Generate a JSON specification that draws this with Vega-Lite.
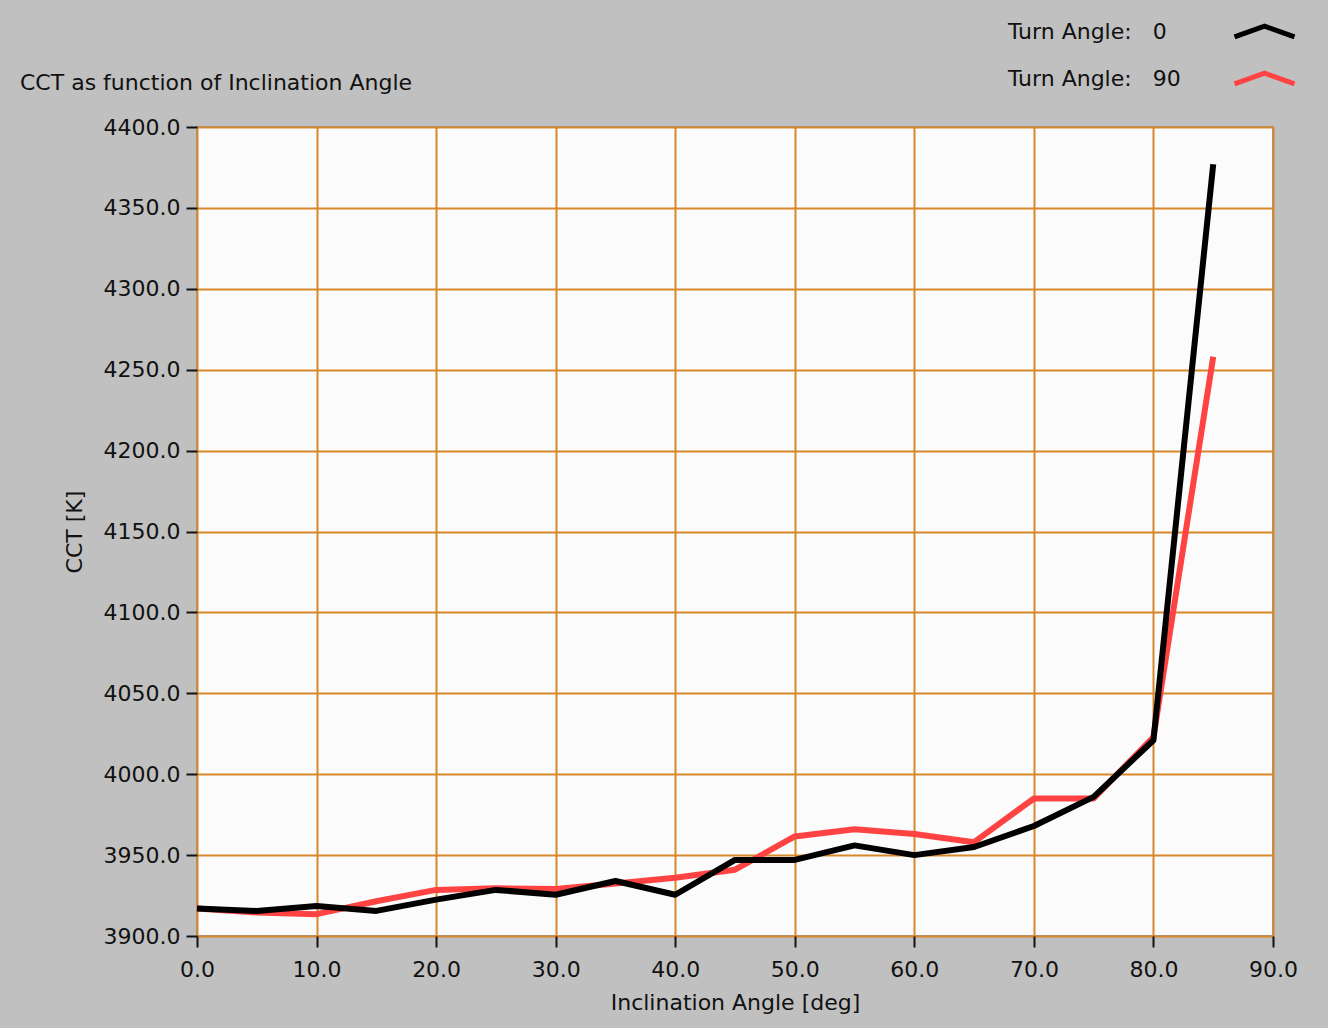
{
  "$schema": "https://vega.github.io/schema/vega-lite/v6.json",
  "width": 1076,
  "height": 809,
  "autosize": {"type": "none"},
  "padding": {"left": 197, "top": 127, "right": 55, "bottom": 92},
  "background": "#c0c0c0",
  "title": {
    "text": "CCT as function of Inclination Angle",
    "anchor": "start",
    "frame": "group",
    "dx": -177,
    "dy": 108,
    "offset": 22,
    "font": "DejaVu Sans",
    "fontSize": 22,
    "fontWeight": "normal",
    "color": "#111111"
  },
  "config": {
    "view": {"fill": "#fbfbfb", "stroke": "#9a9a9a", "strokeWidth": 2},
    "axis": {
      "labelFont": "DejaVu Sans",
      "labelFontSize": 22,
      "labelColor": "#111111",
      "labelFlush": false,
      "titleFont": "DejaVu Sans",
      "titleFontSize": 22,
      "titleFontWeight": "normal",
      "titleColor": "#111111",
      "domain": false,
      "grid": true,
      "gridColor": "#d8882a",
      "gridWidth": 2,
      "gridOpacity": 1,
      "tickColor": "#111111",
      "tickWidth": 2,
      "tickSize": 11
    },
    "legend": {
      "labelFont": "DejaVu Sans",
      "labelFontSize": 22,
      "labelColor": "#111111",
      "labelLimit": 400
    }
  },
  "data": {
    "values": [
      {"angle": 0, "cct": 3917, "turn": "0"},
      {"angle": 5, "cct": 3915.5, "turn": "0"},
      {"angle": 10, "cct": 3918.5, "turn": "0"},
      {"angle": 15, "cct": 3915.5, "turn": "0"},
      {"angle": 20, "cct": 3922.5, "turn": "0"},
      {"angle": 25, "cct": 3928.5, "turn": "0"},
      {"angle": 30, "cct": 3925.5, "turn": "0"},
      {"angle": 35, "cct": 3934, "turn": "0"},
      {"angle": 40, "cct": 3925.5, "turn": "0"},
      {"angle": 45, "cct": 3947, "turn": "0"},
      {"angle": 50, "cct": 3947, "turn": "0"},
      {"angle": 55, "cct": 3956, "turn": "0"},
      {"angle": 60, "cct": 3950, "turn": "0"},
      {"angle": 65, "cct": 3955, "turn": "0"},
      {"angle": 70, "cct": 3968, "turn": "0"},
      {"angle": 75, "cct": 3986, "turn": "0"},
      {"angle": 80, "cct": 4021, "turn": "0"},
      {"angle": 85, "cct": 4377, "turn": "0"},
      {"angle": 0, "cct": 3917, "turn": "90"},
      {"angle": 5, "cct": 3914.5, "turn": "90"},
      {"angle": 10, "cct": 3913.5, "turn": "90"},
      {"angle": 15, "cct": 3921.5, "turn": "90"},
      {"angle": 20, "cct": 3928.5, "turn": "90"},
      {"angle": 25, "cct": 3929.5, "turn": "90"},
      {"angle": 30, "cct": 3929, "turn": "90"},
      {"angle": 35, "cct": 3932.5, "turn": "90"},
      {"angle": 40, "cct": 3936, "turn": "90"},
      {"angle": 45, "cct": 3941, "turn": "90"},
      {"angle": 50, "cct": 3961.5, "turn": "90"},
      {"angle": 55, "cct": 3966, "turn": "90"},
      {"angle": 60, "cct": 3963, "turn": "90"},
      {"angle": 65, "cct": 3958, "turn": "90"},
      {"angle": 70, "cct": 3985, "turn": "90"},
      {"angle": 75, "cct": 3985, "turn": "90"},
      {"angle": 80, "cct": 4023, "turn": "90"},
      {"angle": 85, "cct": 4258, "turn": "90"}
    ]
  },
  "encoding": {
    "x": {
      "field": "angle",
      "type": "quantitative",
      "title": "Inclination Angle [deg]",
      "scale": {"domain": [0, 90], "nice": false},
      "axis": {
        "values": [0, 10, 20, 30, 40, 50, 60, 70, 80, 90],
        "format": ".1f",
        "labelPadding": 12,
        "titlePadding": 12
      }
    },
    "y": {
      "field": "cct",
      "type": "quantitative",
      "title": "CCT [K]",
      "scale": {"domain": [3900, 4400], "nice": false, "zero": false},
      "axis": {
        "values": [3900, 3950, 4000, 4050, 4100, 4150, 4200, 4250, 4300, 4350, 4400],
        "format": ".1f",
        "labelPadding": 6,
        "titlePadding": 17
      }
    },
    "color": {
      "field": "turn",
      "type": "nominal",
      "scale": {"domain": ["0", "90"], "range": ["#000000", "#ff4343"]},
      "legend": {
        "orient": "none",
        "legendX": 1045,
        "legendY": -118,
        "title": null,
        "direction": "vertical",
        "symbolType": "M-1.5,0.27L0,-0.27L1.5,0.27",
        "symbolSize": 1600,
        "symbolStrokeWidth": 5,
        "symbolFillColor": "transparent",
        "labelOffset": -279,
        "rowPadding": 9,
        "labelExpr": "'Turn Angle:\u00a0\u00a0\u00a0' + datum.label"
      }
    }
  },
  "layer": [
    {
      "transform": [{"filter": "datum.turn == '90'"}],
      "mark": {"type": "line", "strokeWidth": 6, "strokeJoin": "round"}
    },
    {
      "transform": [{"filter": "datum.turn == '0'"}],
      "mark": {"type": "line", "strokeWidth": 6, "strokeJoin": "round"}
    }
  ]
}
